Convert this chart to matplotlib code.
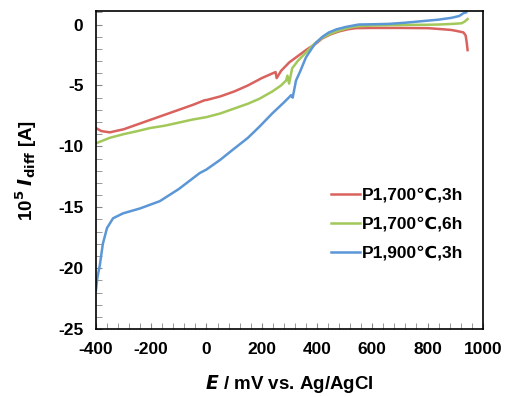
import numpy as np
import matplotlib.pyplot as plt
from matplotlib.ticker import MultipleLocator

plt.rcParams['font.family'] = ['Liberation Sans', 'DejaVu Sans']
plt.rcParams['font.weight'] = 'bold'
plt.rcParams['axes.unicode_minus'] = False

labels = ['P1,700\u2103,3h', 'P1,700\u2103,6h', 'P1,900\u2103,3h']
colors = ['#d9625e', '#a3c85a', '#5b96d6']

# values (E in mV, 1e5 * I_diff in A)
e_red = [-400, -380, -350, -300, -250, -200, -150, -100, -50, -5, 0, 50, 100, 150, 200,
         240, 250, 254, 270, 300, 324, 360, 400, 418, 450, 479, 510, 540, 600, 700, 803,
         850, 887, 910, 930, 938, 942, 945]
i_red = [-8.5, -8.75, -8.85, -8.6, -8.2, -7.8, -7.4, -7.0, -6.6, -6.2, -6.2, -5.9, -5.5, -5.0, -4.4,
         -4.0, -3.9, -4.4, -3.8, -3.1, -2.7, -2.1, -1.5, -1.15, -0.8, -0.57, -0.4, -0.3, -0.28, -0.28, -0.3,
         -0.38, -0.45, -0.55, -0.65, -0.9, -1.5, -2.1]
e_grn = [-400, -350, -300, -250, -205, -150, -100, -50, 0, 50, 100, 150, 191, 238, 270,
         288, 293, 299, 310, 330, 360, 390, 418, 450, 479, 510, 540, 600, 721, 800, 840,
         890, 923, 935, 945]
i_grn = [-9.75, -9.3, -9.0, -8.75, -8.5, -8.3, -8.05, -7.8, -7.6, -7.3, -6.9, -6.5, -6.1, -5.5, -5.0,
         -4.6, -4.2, -4.85, -3.6, -3.0, -2.3, -1.6, -1.1, -0.75, -0.5, -0.3, -0.16, -0.08, -0.03, -0.02, 0.0,
         0.05, 0.1, 0.25, 0.45]
e_blu = [-400, -395, -386, -375, -360, -338, -302, -241, -169, -100, -25, 0, 50, 94, 150,
         191, 238, 280, 300, 306, 312, 324, 340, 360, 380, 396, 420, 443, 470, 504, 551,
         600, 659, 720, 778, 840, 887, 915, 930, 940]
i_blu = [-21.8, -20.8, -19.75, -18.0, -16.7, -15.9, -15.5, -15.1, -14.5, -13.5, -12.2, -11.9, -11.1, -10.3, -9.3,
         -8.4, -7.3, -6.4, -5.95, -5.8, -6.0, -4.6, -3.8, -2.7, -2.0, -1.5, -1.0, -0.65, -0.4, -0.2, 0.0,
         0.02, 0.05, 0.15, 0.27, 0.4, 0.55, 0.7, 0.93, 1.0]

fig = plt.figure(figsize=(5.05, 3.97), dpi=100)
ax = fig.add_axes([0.190, 0.171, 0.766, 0.801])

ax.plot(e_red, i_red, color=colors[0], lw=1.8, label=labels[0])
ax.plot(e_grn, i_grn, color=colors[1], lw=1.8, label=labels[1])
ax.plot(e_blu, i_blu, color=colors[2], lw=1.8, label=labels[2])

ax.set_xlim(-400, 1000)
ax.set_ylim(-25, 1.1)
ax.xaxis.set_major_locator(MultipleLocator(200))
ax.xaxis.set_minor_locator(MultipleLocator(40))
ax.yaxis.set_major_locator(MultipleLocator(5))
ax.yaxis.set_minor_locator(MultipleLocator(1))
ax.tick_params(which='both', direction='in', top=False, right=False, color='#888888')
ax.tick_params(which='major', length=4, labelsize=12.5, pad=9)
ax.tick_params(which='minor', length=4)
for lab in ax.get_xticklabels() + ax.get_yticklabels():
    lab.set_fontweight('bold')
for s in ax.spines.values():
    s.set_linewidth(1.2)

ax.set_xlabel('$\\boldsymbol{E}$ / mV vs. Ag/AgCl', fontsize=13.5, fontweight='bold', labelpad=12)
ax.set_ylabel('10$^{\\mathbf{5}}$ $\\boldsymbol{I}_{\\mathbf{diff}}$ [A]', fontsize=13.5, fontweight='bold', labelpad=14)

leg = ax.legend(loc='center right', bbox_to_anchor=(0.99, 0.33), frameon=False,
                prop={'weight': 'bold', 'size': 12.5}, handlelength=1.7, handletextpad=0.1,
                labelspacing=0.8)

fig.savefig('out.png', dpi=100)
